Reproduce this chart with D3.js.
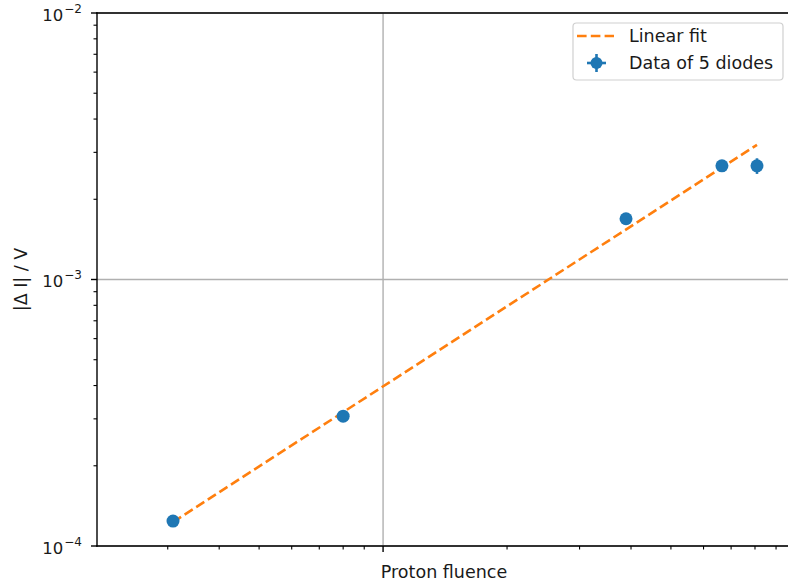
<!DOCTYPE html>
<html>
<head>
<meta charset="utf-8">
<script src="https://cdn.jsdelivr.net/npm/d3@7"></script>
<style>
  html, body { margin: 0; padding: 0; background: #fff; }
  text { font-family: "DejaVu Sans", sans-serif; }
</style>
</head>
<body>
<script>
// ---- data ----
const fluence = [3.09e12, 8.0e12, 3.89e13, 6.65e13, 8.09e13];
const deltaI  = [1.24e-4, 3.07e-4, 1.69e-3, 2.67e-3, 2.67e-3];
const yErr    = [2e-6, 5e-6, 3e-5, 6e-5, 1.8e-4];
const xErr    = [3e10, 8e10, 3e11, 5e11, 6e11];
const fitX    = [3.09e12, 8.09e13];
const fitY    = [1.23e-4, 3.20e-3];
const yTickExps = [-4, -3, -2];
const seriesNames = ["Linear fit", "Data of 5 diodes"];

const W = 788, H = 581;
const mL = 97, mT = 13, mR = 790, mB = 546;
const blue = "#1f77b4", orange = "#ff7f0e";
const lw = 2.6, spineW = 1.4;

const svg = d3.select("body").append("svg").attr("width", W).attr("height", H);

const x = d3.scaleLog().domain([2.02e12, 9.73e13]).range([mL, mR]);
const y = d3.scaleLog().domain([1e-4, 1e-2]).range([mB, mT]);

// grid (major only)
const xMajor = [1e13];
svg.append("g").selectAll("line").data(xMajor).join("line")
  .attr("x1", d => x(d)).attr("x2", d => x(d)).attr("y1", mT).attr("y2", mB)
  .attr("stroke", "#b0b0b0").attr("stroke-width", 1.4);
svg.append("g").selectAll("line").data(yTickExps.map(e => Math.pow(10, e))).join("line")
  .attr("x1", mL).attr("x2", mR).attr("y1", d => y(d)).attr("y2", d => y(d))
  .attr("stroke", "#b0b0b0").attr("stroke-width", 1.4);

// fit line
svg.append("line")
  .attr("x1", x(fitX[0])).attr("y1", y(fitY[0]))
  .attr("x2", x(fitX[1])).attr("y2", y(fitY[1]))
  .attr("stroke", orange).attr("stroke-width", lw).attr("stroke-dasharray", "9.6,4.2");

// error bars
const pts = fluence.map((f, i) => ({ x: f, y: deltaI[i], ex: xErr[i], ey: yErr[i] }));
const eb = svg.append("g").attr("stroke", blue).attr("stroke-width", lw);
eb.selectAll("line.v").data(pts).join("line").attr("class", "v")
  .attr("x1", d => x(d.x)).attr("x2", d => x(d.x))
  .attr("y1", d => y(d.y - d.ey)).attr("y2", d => y(d.y + d.ey));
eb.selectAll("line.h").data(pts).join("line").attr("class", "h")
  .attr("x1", d => x(d.x - d.ex)).attr("x2", d => x(d.x + d.ex))
  .attr("y1", d => y(d.y)).attr("y2", d => y(d.y));
svg.append("g").selectAll("circle").data(pts).join("circle")
  .attr("cx", d => x(d.x)).attr("cy", d => y(d.y)).attr("r", 6.5).attr("fill", blue);

// axes spines
const spine = (x1, y1, x2, y2) => svg.append("line").attr("x1", x1).attr("y1", y1)
  .attr("x2", x2).attr("y2", y2).attr("stroke", "#000").attr("stroke-width", spineW)
  .attr("stroke-linecap", "square");
spine(mL, mT, mL, mB);
spine(mL, mB, mR, mB);
spine(mL, mT, mR, mT);
spine(mR, mT, mR, mB);

// x ticks
const xTicks = x.ticks().filter(v => x(v) >= mL - 0.5 && x(v) <= mR);
svg.append("g").selectAll("line").data(xTicks).join("line")
  .attr("x1", d => x(d)).attr("x2", d => x(d))
  .attr("y1", mB).attr("y2", d => mB + (xMajor.includes(d) ? 6 : 3.5))
  .attr("stroke", "#000").attr("stroke-width", d => xMajor.includes(d) ? 1.4 : 1.1);

// y ticks
const yTicks = y.ticks();
const isMajorY = d => Math.abs(Math.log10(d) - Math.round(Math.log10(d))) < 1e-9;
svg.append("g").selectAll("line").data(yTicks).join("line")
  .attr("x1", mL).attr("x2", d => mL - (isMajorY(d) ? 6 : 3.5))
  .attr("y1", d => y(d)).attr("y2", d => y(d))
  .attr("stroke", "#000").attr("stroke-width", d => isMajorY(d) ? 1.4 : 1.1);

// y tick labels
const yl = svg.append("g").selectAll("text").data(yTickExps).join("text")
  .attr("x", 82).attr("y", d => y(Math.pow(10, d)) + 7.5)
  .attr("text-anchor", "end").attr("font-size", 16.5).attr("fill", "#1a1a1a");
yl.append("tspan").text("10");
yl.append("tspan").attr("font-size", 12).attr("dy", -8).attr("dx", 1).text(d => "\u2212" + Math.abs(d));

// axis labels
svg.append("text").attr("x", 444).attr("y", 578)
  .attr("text-anchor", "middle").attr("font-size", 17.5).attr("fill", "#1a1a1a").text("Proton fluence");
svg.append("text").attr("transform", `translate(27,${(mT + mB) / 2}) rotate(-90)`)
  .attr("text-anchor", "middle").attr("font-size", 17.5).attr("fill", "#1a1a1a").text("|\u0394 I| / V");

// legend
const lg = svg.append("g");
lg.append("rect").attr("x", 573).attr("y", 23).attr("width", 210).attr("height", 57).attr("rx", 3.5)
  .attr("fill", "#fff").attr("fill-opacity", 0.8).attr("stroke", "#d0d0d0").attr("stroke-width", 1.2);
lg.append("line").attr("x1", 577).attr("x2", 614).attr("y1", 36).attr("y2", 36)
  .attr("stroke", orange).attr("stroke-width", lw).attr("stroke-dasharray", "9.6,4.2");
lg.append("line").attr("x1", 587).attr("x2", 606).attr("y1", 63).attr("y2", 63)
  .attr("stroke", blue).attr("stroke-width", lw);
lg.append("line").attr("x1", 596.5).attr("x2", 596.5).attr("y1", 54).attr("y2", 72)
  .attr("stroke", blue).attr("stroke-width", lw);
lg.append("circle").attr("cx", 596.5).attr("cy", 63).attr("r", 6).attr("fill", blue);
lg.selectAll("text").data(seriesNames).join("text")
  .attr("x", 629).attr("y", (d, i) => 42 + i * 27)
  .attr("font-size", 17.5).attr("fill", "#1a1a1a").text(d => d);
</script>
</body>
</html>
